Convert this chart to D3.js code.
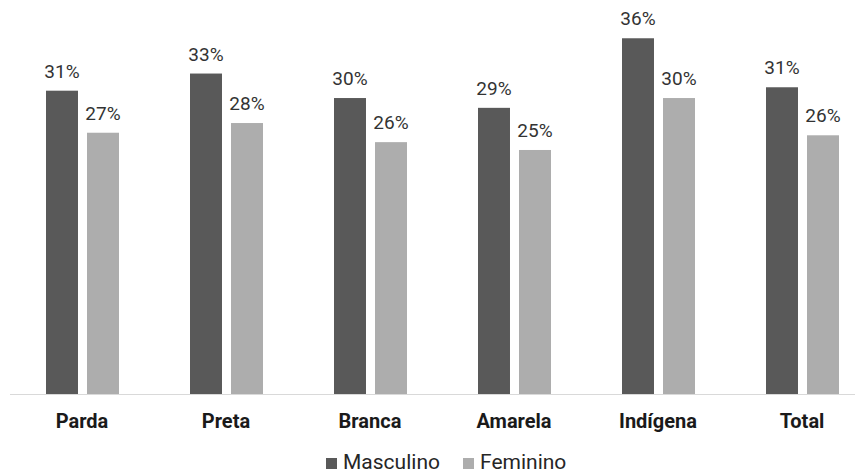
<!DOCTYPE html>
<html><head><meta charset="utf-8">
<script src="https://cdn.jsdelivr.net/npm/d3@7"></script>
<style>body{margin:0;background:#fff}svg{display:block}</style>
</head><body>
<svg id="c" width="864" height="476"></svg>
<script>
const categories = ["Parda", "Preta", "Branca", "Amarela", "Indígena", "Total"];
const series = ["Masculino", "Feminino"];
const masculino = [30.95, 32.7, 30.2, 29.2, 36.3, 31.3];
const feminino = [26.66, 27.65, 25.7, 24.9, 30.2, 26.4];
const colors = ["#595959", "#adadad"];

const svg = d3.select("#c");
const font = "Roboto, 'Open Sans', sans-serif";
const baseY = 394;

const x0 = d3.scaleBand().domain(categories).range([10, 874]).padding(0);
const x1 = d3.scaleBand().domain(series).range([36, 109]).paddingInner(0.22).paddingOuter(0);
const y = d3.scaleLinear().domain([0, 40]).range([baseY, 2]);

const data = categories.map((c, i) => ({cat: c, vals: [masculino[i], feminino[i]]}));

const g = svg.append("g");
const groups = g.selectAll("g.cat").data(data).join("g")
  .attr("transform", d => `translate(${x0(d.cat)},0)`);

groups.selectAll("rect").data(d => d.vals.map((v, j) => ({s: series[j], v, j})))
  .join("rect")
  .attr("x", d => x1(d.s))
  .attr("width", x1.bandwidth())
  .attr("y", d => y(d.v))
  .attr("height", d => baseY - y(d.v))
  .attr("fill", d => colors[d.j]);

groups.selectAll("text.val").data(d => d.vals.map((v, j) => ({s: series[j], v, j})))
  .join("text").attr("class", "val")
  .attr("x", d => x1(d.s) + x1.bandwidth() / 2)
  .attr("y", d => y(d.v) - 13)
  .attr("text-anchor", "middle")
  .attr("font-family", font).attr("font-size", 19).attr("fill", "#333")
  .text(d => Math.round(d.v) + "%");

// axis
const axis = d3.axisBottom(x0).tickSize(0).tickPadding(0);
const ax = svg.append("g").attr("transform", `translate(0,${baseY})`).call(axis);
ax.select(".domain").remove();
svg.append("line").attr("x1", 10).attr("x2", 855).attr("y1", baseY + 0.5).attr("y2", baseY + 0.5)
  .attr("stroke", "#d9d9d9").attr("stroke-width", 1);
ax.selectAll(".tick text")
  .attr("dy", 0).attr("y", 34)
  .attr("font-family", font).attr("font-size", 20).attr("font-weight", "bold").attr("fill", "#1a1a1a");

// legend
const legX = [326, 463];
const leg = svg.append("g");
series.forEach((s, i) => {
  leg.append("rect").attr("x", legX[i]).attr("y", 458).attr("width", 11).attr("height", 11).attr("fill", colors[i]);
  leg.append("text").attr("x", legX[i] + 17).attr("y", 469)
    .attr("font-family", font).attr("font-size", 21).attr("fill", "#262626").text(s);
});
</script>
</body></html>
